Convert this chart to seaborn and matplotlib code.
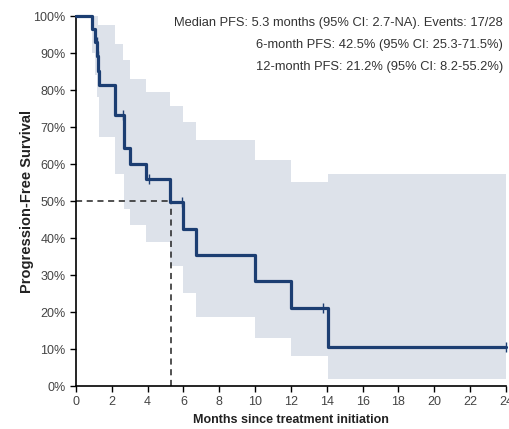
import numpy as np
import pandas as pd
import matplotlib
matplotlib.use('Agg')
import matplotlib.pyplot as plt
import seaborn as sns
from matplotlib.ticker import PercentFormatter

# KM step curve (time in months, survival fraction)
km_time = [0, 0.92, 1.05, 1.18, 1.24, 1.28, 2.16, 2.68, 3.0, 3.91, 5.25, 5.98, 6.68, 10.0, 12.0, 14.05]
km_surv = [1.0, 0.964, 0.929, 0.891, 0.852, 0.814, 0.733, 0.644, 0.601, 0.560, 0.497, 0.425, 0.354, 0.283, 0.212, 0.106]

# censored observations
cens_time = [1.15, 1.21, 2.62, 4.1, 5.9, 13.8, 24.0]
cens_surv = [0.929, 0.891, 0.733, 0.560, 0.497, 0.212, 0.106]

# 95% CI band
up_time = [0, 1.25, 2.18, 2.65, 3.0, 3.9, 5.25, 5.98, 6.68, 10.0, 12.0, 14.05]
up_surv = [1.0, 0.977, 0.925, 0.88, 0.83, 0.795, 0.758, 0.714, 0.664, 0.612, 0.552, 0.572]
lo_time = [0, 0.92, 1.05, 1.18, 1.27, 2.2, 2.68, 3.0, 3.91, 5.25, 5.98, 6.68, 10.0, 12.0, 14.05]
lo_surv = [1.0, 0.90, 0.84, 0.78, 0.673, 0.574, 0.479, 0.434, 0.389, 0.324, 0.251, 0.186, 0.131, 0.082, 0.020]

t_end = 24.0
median_pfs = 5.3

notes = ['Median PFS: 5.3 months (95% CI: 2.7-NA). Events: 17/28',
         '6-month PFS: 42.5% (95% CI: 25.3-71.5%)',
         '12-month PFS: 21.2% (95% CI: 8.2-55.2%)']

line_col = '#1c3e72'
band_col = '#dde2ea'

sns.set_style('ticks')
plt.rcParams['font.family'] = ['Liberation Sans', 'DejaVu Sans']

fig = plt.figure(figsize=(5.09, 4.29), dpi=100)
ax = fig.add_axes([0.1493, 0.1002, 0.8448, 0.8625])

# step values of the CI on a common grid
grid = np.unique(np.concatenate([up_time, lo_time, [t_end]]))
up_g = np.array(up_surv)[np.searchsorted(up_time, grid, side='right') - 1]
lo_g = np.array(lo_surv)[np.searchsorted(lo_time, grid, side='right') - 1]
ax.fill_between(grid, lo_g, up_g, step='post', color=band_col, lw=0, zorder=1)

km = pd.DataFrame({'time': km_time + [t_end], 'surv': km_surv + [km_surv[-1]]})
sns.lineplot(data=km, x='time', y='surv', drawstyle='steps-post', estimator=None,
             color=line_col, lw=2.3, ax=ax, zorder=3, clip_on=False)
sns.scatterplot(x=cens_time, y=cens_surv, marker='|', s=45, linewidth=1.0,
                color=line_col, ax=ax, zorder=4, clip_on=False)

# median lines
ax.plot([0, median_pfs], [0.5, 0.5], ls=(0, (4, 3)), color='#222222', lw=1.1, zorder=2)
ax.plot([median_pfs, median_pfs], [0, 0.5], ls=(0, (4, 3)), color='#222222', lw=1.1, zorder=2)

ax.set_xlim(0, t_end)
ax.set_ylim(0, 1.0)
ax.set_xticks(np.arange(0, 25, 2))
ax.set_yticks(np.arange(0, 1.01, 0.1))
ax.yaxis.set_major_formatter(PercentFormatter(1.0, decimals=0))
ax.tick_params(labelsize=9, labelcolor='#444444', length=4, width=1, color='black')
for s in ['left', 'bottom']:
    ax.spines[s].set_linewidth(1.2)
    ax.spines[s].set_color('black')
sns.despine(ax=ax)

ax.set_xlabel('Months since treatment initiation', fontsize=9, fontweight='bold', color='#222222')
ax.set_ylabel('Progression-Free Survival', fontsize=10.5, fontweight='bold', color='#222222')
ax.xaxis.set_label_coords(0.5, -0.075)
ax.yaxis.set_label_coords(-0.098, 0.5)

for i, txt in enumerate(notes):
    fig.text(503 / 509, 1 - (23 + 22 * i) / 429, txt, ha='right', va='center',
             fontsize=9.3, color='#333333')

fig.savefig('out.png', dpi=100)
